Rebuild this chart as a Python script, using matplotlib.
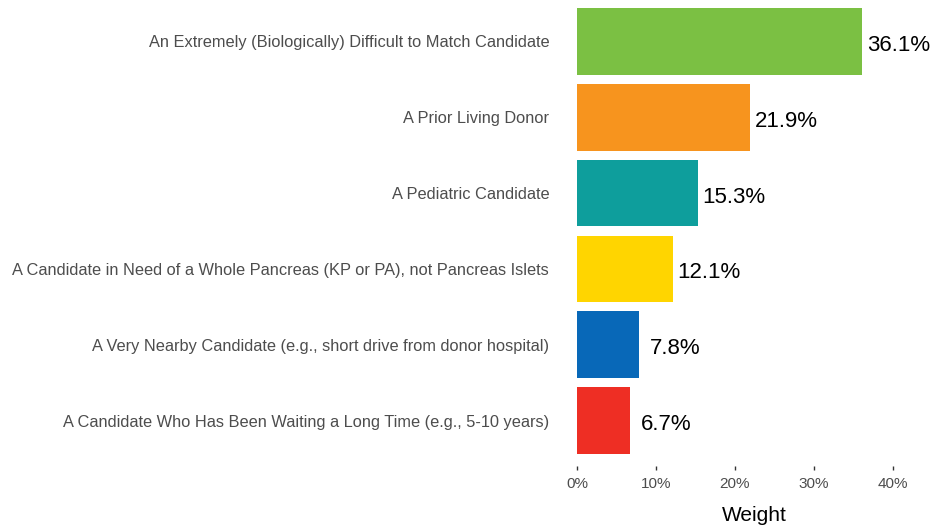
import numpy as np
import matplotlib
matplotlib.use("Agg")
import matplotlib.pyplot as plt
from matplotlib.ticker import FuncFormatter

plt.rcParams['font.family'] = ['Liberation Sans', 'DejaVu Sans']

# Données (de haut en bas)
categories = [
    "An Extremely (Biologically) Difficult to Match Candidate",
    "A Prior Living Donor",
    "A Pediatric Candidate",
    "A Candidate in Need of a Whole Pancreas (KP or PA), not Pancreas Islets",
    "A Very Nearby Candidate (e.g., short drive from donor hospital)",
    "A Candidate Who Has Been Waiting a Long Time (e.g., 5-10 years)",
]
weights = [36.1, 21.9, 15.3, 12.1, 7.8, 6.7]
colors = ["#7BC043", "#F7941E", "#0E9E9C", "#FFD500", "#0868B8", "#EE2E24"]
xticks = [0, 10, 20, 30, 40]

W, H = 932, 527
fig = plt.figure(figsize=(W / 100, H / 100), dpi=100)

# Position du panneau en pixels
left, right = 577, 932
top, bottom = -4, 466
ax = fig.add_axes([left / W, 1 - bottom / H, (right - left) / W, (bottom - top) / H])

y = np.arange(len(categories))[::-1] + 1
ax.barh(y, weights, height=0.88, color=colors)

# étiquettes centrées un peu après la fin de la barre
for yi, w in zip(y, weights):
    ax.text(w + 4.6, yi - 0.02, f"{w:.1f}%", va="center_baseline", ha="center",
            fontsize=16, color="black")

ax.set_xlim(0, (right - left) / 7.9)
ax.set_ylim(0.4, 6.6)

ax.set_yticks(y)
ax.set_yticklabels(categories, fontsize=11.8, color="#4D4D4D")
ax.set_xticks(xticks)
ax.xaxis.set_major_formatter(FuncFormatter(lambda v, p: f"{v:.0f}%"))
ax.tick_params(axis="x", length=3, width=1, color="#333333",
               labelsize=11, labelcolor="#4D4D4D", pad=5)
ax.tick_params(axis="y", length=0, pad=20)

for s in ax.spines.values():
    s.set_visible(False)

ax.set_xlabel("Weight", fontsize=15, color="black")
ax.xaxis.set_label_coords(0.5, -0.085)

fig.savefig("out.png", dpi=100)
plt.close()
